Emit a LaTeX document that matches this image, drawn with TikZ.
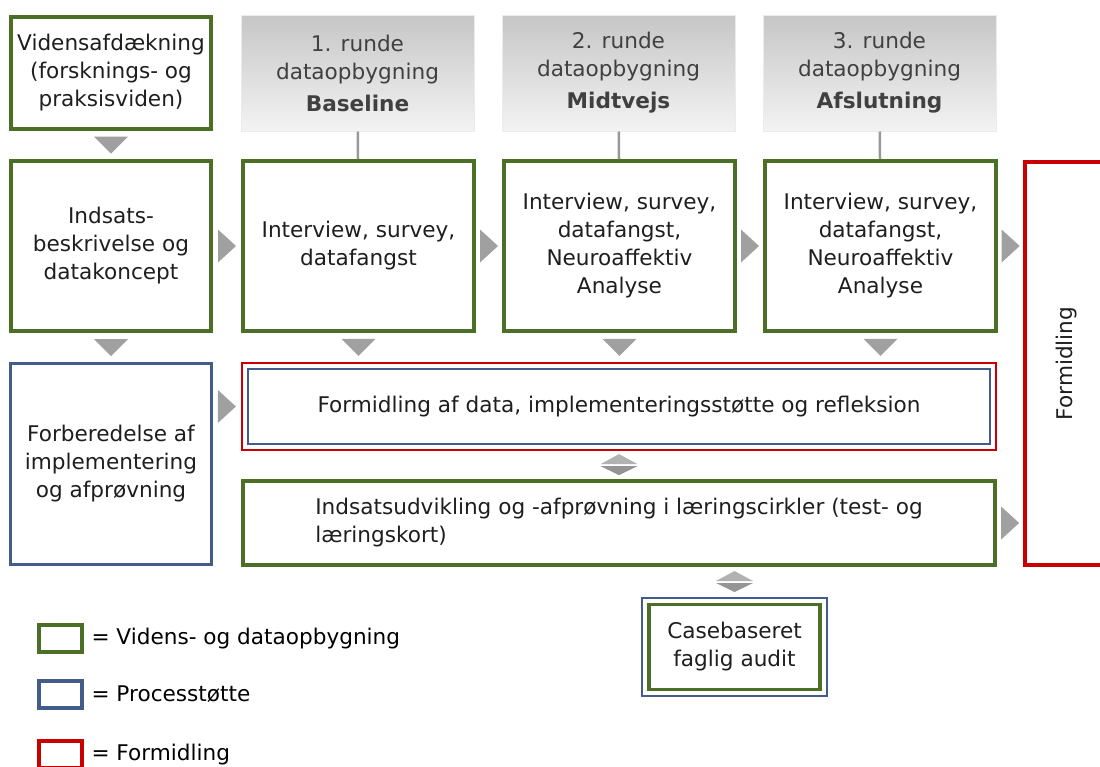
\documentclass[tikz,border=0pt]{standalone}
\usepackage{fontspec}
\setmainfont{DejaVu Sans}
\usetikzlibrary{calc,positioning}

\definecolor{dgreen}{RGB}{76,111,40}
\definecolor{dblue}{RGB}{66,93,140}
\definecolor{dred}{RGB}{200,0,0}
\definecolor{trigray}{RGB}{160,160,160}
\definecolor{txtgray}{RGB}{30,30,30}
\definecolor{headtop}{RGB}{198,198,198}
\definecolor{headbot}{RGB}{243,243,243}

\begin{document}
\begin{tikzpicture}[x=1pt,y=-1pt,font=\fontsize{21.6}{28}\selectfont,text=txtgray]

    \tikzstyle{data}=[draw=dgreen,line width=4pt,align=center,inner sep=0pt]
    \tikzstyle{proc}=[draw=dblue,line width=3pt,align=center,inner sep=0pt]
    \tikzstyle{form}=[draw=dred,line width=3pt,align=center,inner sep=0pt]
    \tikzstyle{head}=[top color=headtop,bottom color=headbot,draw=black!8,line width=1pt,minimum width=233pt,minimum height=116pt,align=center,text=black!75]
    \tikzstyle{link}=[draw=black!40,line width=2.5pt]
    \tikzset{rtri/.pic={\fill[trigray] (-9,-16.5) -- (9,0) -- (-9,16.5) -- cycle;},
             dtri/.pic={\fill[trigray] (-17,-8.5) -- (17,-8.5) -- (0,8.5) -- cycle;},
             dbl/.pic={\fill[black!30] (-18.5,-1) -- (18.5,-1) -- (0,-11) -- cycle;
                       \fill[black!42] (-18.5,1) -- (18.5,1) -- (0,10) -- cycle;}}

    \useasboundingbox (0,0) rectangle (1100,766);

    % top row
    \node (know) [data,minimum width=200pt,minimum height=112pt] at (111,73) {Vidensafdækning\\(forsknings- og\\praksisviden)};
    \node (h1) [head] at (357.5,73) {1. runde\\dataopbygning\\[4pt]\textbf{Baseline}};
    \node (h2) [head] at (618.5,73) {2. runde\\dataopbygning\\[4pt]\textbf{Midtvejs}};
    \node (h3) [head] at (879.5,73) {3. runde\\dataopbygning\\[4pt]\textbf{Afslutning}};

    % data rounds
    \node (desc) [data,minimum width=200pt,minimum height=170pt] at (111,246) {Indsats-\\beskrivelse og\\datakoncept};
    \node (r1) [data,minimum width=231pt,minimum height=170pt] at (358.5,246) {Interview, survey,\\datafangst};
    \node (r2) [data,minimum width=231pt,minimum height=170pt] at (619.5,246) {Interview, survey,\\datafangst,\\Neuroaffektiv\\Analyse};
    \node (r3) [data,minimum width=231pt,minimum height=170pt] at (880.5,246) {Interview, survey,\\datafangst,\\Neuroaffektiv\\Analyse};

    \draw [link] (h1) -- (r1);
    \draw [link] (h2) -- (r2);
    \draw [link] (h3) -- (r3);

    % process support
    \node (prep) [proc,minimum width=201pt,minimum height=201pt] at (111,464) {Forberedelse af\\implementering\\og afprøvning};
    \node (fmd_out) [form,line width=2.5pt,minimum width=754pt,minimum height=87pt] at (619,406.5) {};
    \node (fmd) [proc,line width=2.5pt,minimum width=742pt,minimum height=75pt] at (fmd_out) {Formidling af data, implementeringsstøtte og refleksion};
    \node (dev) [data,minimum width=752pt,minimum height=84pt,align=left] at (619,523) {Indsatsudvikling og -afprøvning i læringscirkler (test- og\\læringskort)};

    \node (form) [form,line width=3.5pt,minimum width=84pt,minimum height=403pt] at (1067,363.5) {};
    \node (form_label) [rotate=90] at (form) {Formidling};

    \node (case_out) [proc,line width=2pt,minimum width=185pt,minimum height=98pt] at (734.5,647) {};
    \node (case) [data,line width=3.5pt,minimum width=171pt,minimum height=85pt] at (case_out) {Casebaseret\\faglig audit};

    % arrows
    \pic at ($(know.south)!0.5!(desc.north)$) {dtri};
    \pic at ($(desc.south)!0.5!(prep.north)$) {dtri};
    \pic at ($(r1.south)!0.5!(r1.south|-fmd_out.north)$) {dtri};
    \pic at ($(r2.south)!0.5!(r2.south|-fmd_out.north)$) {dtri};
    \pic at ($(r3.south)!0.5!(r3.south|-fmd_out.north)$) {dtri};
    \pic at ($(desc.east)!0.5!(r1.west)$) {rtri};
    \pic at ($(r1.east)!0.5!(r2.west)$) {rtri};
    \pic at ($(r2.east)!0.5!(r3.west)$) {rtri};
    \pic at ($(r3.east)!0.5!(form.west|-r3.east)$) {rtri};
    \pic at ($(prep.east|-fmd_out.west)!0.5!(fmd_out.west)$) {rtri};
    \pic at ($(dev.east)!0.5!(form.west|-dev.east)$) {rtri};
    \pic at ($(fmd_out.south)!0.5!(fmd_out.south|-dev.north)$) {dbl};
    \pic at ($(case_out.north|-dev.south)!0.5!(case_out.north)$) {dbl};

    % legend
    \node (key_data) [data,minimum width=43pt,minimum height=27pt] at (60.5,638.5) {};
    \node (key_proc) [proc,line width=4pt,minimum width=43pt,minimum height=27pt] at (60.5,694) {};
    \node (key_form) [form,line width=4pt,minimum width=43pt,minimum height=27pt] at (60.5,754.5) {};
    \node [right=4pt of key_data,text=black] {= Videns- og dataopbygning};
    \node [right=4pt of key_proc,text=black] {= Processtøtte};
    \node [right=4pt of key_form,text=black] {= Formidling};

\end{tikzpicture}
\end{document}
